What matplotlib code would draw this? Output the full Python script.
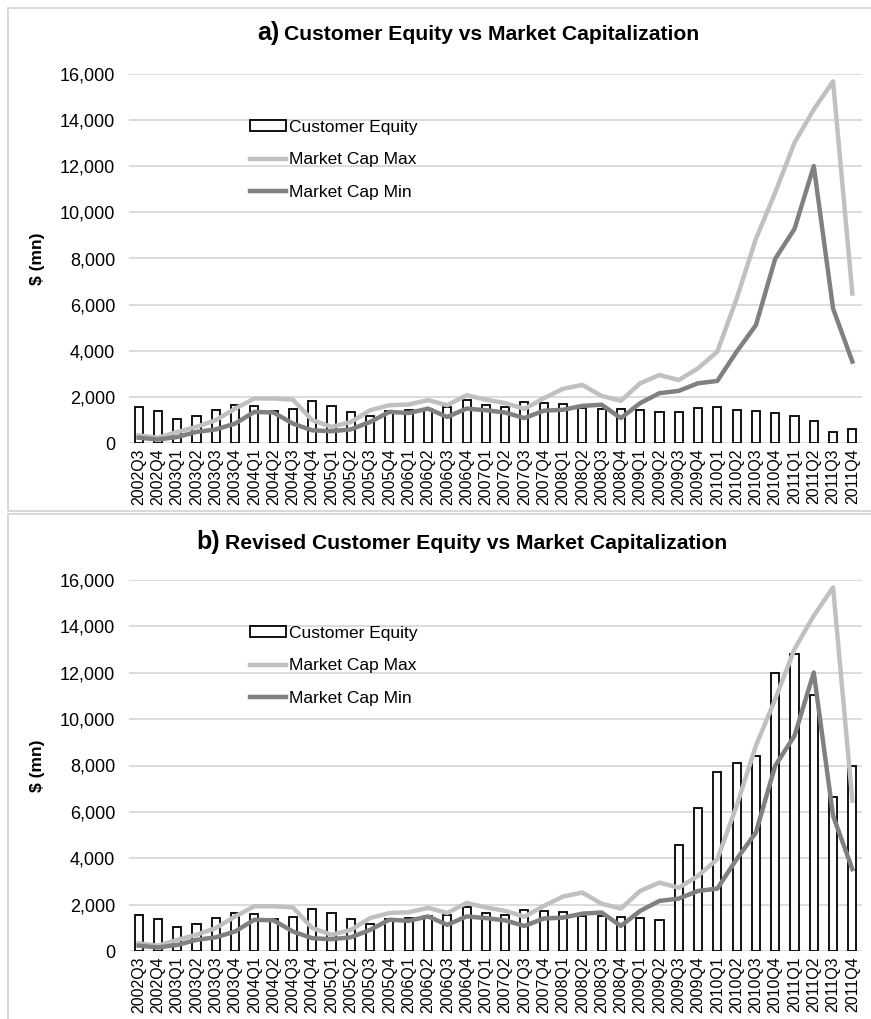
import numpy as np
import matplotlib
matplotlib.use('Agg')
import matplotlib.pyplot as plt
from matplotlib.patches import Patch, Rectangle
from matplotlib.lines import Line2D
from matplotlib.ticker import FuncFormatter

plt.rc('font', family=['Liberation Sans', 'DejaVu Sans'])

quarters = ['2002Q3', '2002Q4',
            '2003Q1', '2003Q2', '2003Q3', '2003Q4',
            '2004Q1', '2004Q2', '2004Q3', '2004Q4',
            '2005Q1', '2005Q2', '2005Q3', '2005Q4',
            '2006Q1', '2006Q2', '2006Q3', '2006Q4',
            '2007Q1', '2007Q2', '2007Q3', '2007Q4',
            '2008Q1', '2008Q2', '2008Q3', '2008Q4',
            '2009Q1', '2009Q2', '2009Q3', '2009Q4',
            '2010Q1', '2010Q2', '2010Q3', '2010Q4',
            '2011Q1', '2011Q2', '2011Q3', '2011Q4']

# customer equity ($ mn), original and revised
ce = [1570, 1380, 1020, 1175, 1435, 1640, 1610, 1380, 1480, 1830,
      1620, 1360, 1150, 1390, 1435, 1490, 1560, 1880, 1660, 1540,
      1770, 1725, 1700, 1510, 1490, 1465, 1435, 1335, 1350, 1520,
      1580, 1435, 1405, 1305, 1190, 970, 480, 595]
ce_rev = [1570, 1380, 1020, 1175, 1435, 1640, 1610, 1380, 1480, 1830,
          1620, 1360, 1150, 1390, 1435, 1490, 1560, 1880, 1660, 1540,
          1770, 1725, 1700, 1510, 1490, 1465, 1435, 1335, 4560, 6160,
          7730, 8120, 8390, 11990, 12820, 11050, 6660, 7990]

# market cap
mc_max = [330, 230, 480, 700, 990, 1490, 1930, 1930, 1880, 990,
          700, 910, 1420, 1640, 1670, 1860, 1640, 2070, 1880, 1730,
          1480, 1940, 2350, 2520, 2040, 1830, 2590, 2950, 2730, 3240,
          3960, 6260, 8850, 10860, 13020, 14460, 15680, 6480]
mc_min = [230, 150, 260, 480, 590, 840, 1350, 1320, 840, 550,
          510, 590, 910, 1350, 1300, 1490, 1130, 1490, 1420, 1320,
          1080, 1400, 1440, 1610, 1660, 1080, 1730, 2160, 2260, 2590,
          2690, 3960, 5110, 7990, 9280, 12010, 5830, 3530]

yticks = [0, 2000, 4000, 6000, 8000, 10000, 12000, 14000, 16000]

W, H = 871, 1019
fig = plt.figure(figsize=(W/100, H/100), dpi=100)

# panel frames (pixel boxes -> figure coords)
frame_c = '#d6d6d6'
fig.add_artist(Rectangle((8/W, 1-511/H), 1.0, (511-8)/H, transform=fig.transFigure,
                         fill=False, ec=frame_c, lw=1.3))
fig.add_artist(Rectangle((8/W, -0.05), 1.0, 0.05+1-514/H, transform=fig.transFigure,
                         fill=False, ec=frame_c, lw=1.3))

panels = [
    # bars, top px, bottom px, title letter, title text, letter right px, text left px, baseline px
    (ce, 74, 443, 'a)', 'Customer Equity vs Market Capitalization', 279, 284, 40),
    (ce_rev, 580, 951, 'b)', 'Revised Customer Equity vs Market Capitalization', 220, 225, 549),
]

x = np.arange(len(quarters))
lmax_c = '#c0c0c0'
lmin_c = '#808080'

for bars, top, bot, letter, ttl, lx, tx, by in panels:
    ax = fig.add_axes([129/W, 1-bot/H, 733/W, (bot-top)/H])
    ax.bar(x, bars, width=0.42, color='white', edgecolor='black', linewidth=1.3, zorder=2)
    ax.plot(x, mc_max, color=lmax_c, lw=3.2, zorder=3, solid_joinstyle='round')
    ax.plot(x, mc_min, color=lmin_c, lw=3.2, zorder=4, solid_joinstyle='round')

    ax.set_xlim(-0.5, len(quarters)-0.5)
    ax.set_ylim(0, 16000)
    ax.set_yticks(yticks)
    ax.yaxis.set_major_formatter(FuncFormatter(lambda v, p: '{:,.0f}'.format(v)))
    ax.grid(axis='y', color='#d9d9d9', lw=1.3, zorder=0)
    ax.set_axisbelow(True)
    for s in ['left', 'right', 'top', 'bottom']:
        ax.spines[s].set_visible(False)
    ax.set_xticks(x)
    ax.set_xticklabels(quarters, rotation=90, fontsize=11.5)
    ax.tick_params(axis='both', length=0)
    ax.tick_params(axis='y', labelsize=13, pad=10)
    ax.tick_params(axis='x', pad=4)

    ax.set_ylabel('$ (mn)', fontsize=12.5, fontweight='bold')
    ax.yaxis.set_label_coords((45-129)/733, 0.5)

    # legend, first row centred near 127 px in panel a
    handles = [Patch(facecolor='white', edgecolor='black', lw=1.3),
               Line2D([0], [0], color=lmax_c, lw=3.2),
               Line2D([0], [0], color=lmin_c, lw=3.2)]
    ax.legend(handles, ['Customer Equity', 'Market Cap Max', 'Market Cap Min'],
              loc='upper left', bbox_to_anchor=((250-129)/733, (bot-(top+46))/(bot-top)),
              frameon=False, fontsize=12.5, handlelength=2.1, handleheight=0.6,
              handletextpad=0.15, labelspacing=1.0, borderpad=0, borderaxespad=0)

    # title in two pieces, the letter is bigger
    fig.text(lx/W, 1-by/H, letter, ha='right', va='baseline', fontsize=18, fontweight='bold')
    fig.text(tx/W, 1-by/H, ttl, ha='left', va='baseline', fontsize=15.2, fontweight='bold')

plt.savefig('out.png', dpi=100)
